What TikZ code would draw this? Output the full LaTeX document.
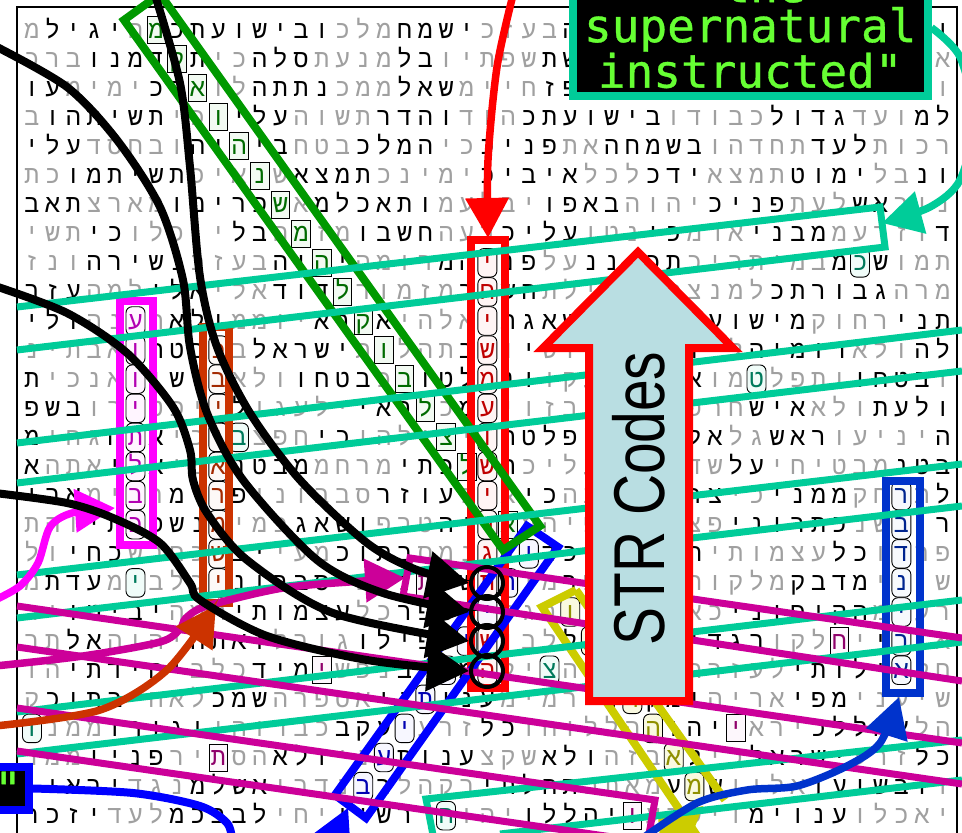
\documentclass[tikz,border=0pt]{standalone}
\usepackage{fontspec}
\usepackage{graphicx}
\usetikzlibrary{arrows.meta}
\newfontfamily\hebf[Script=Hebrew]{Liberation Mono}
\newfontfamily\monof[FakeBold=0.7]{DejaVu Sans Mono}
\newfontfamily\arialf{Liberation Sans}
\definecolor{cteal}{HTML}{00CC99}
\definecolor{cpurp}{HTML}{CC0099}
\definecolor{cpink}{HTML}{FF00FF}
\definecolor{corng}{HTML}{CC3300}
\definecolor{cgreen}{HTML}{009900}
\definecolor{cyell}{HTML}{CCCC00}
\definecolor{cblueA}{HTML}{0000FF}
\definecolor{cblueB}{HTML}{0033CC}
\definecolor{cred}{HTML}{FF0000}
\definecolor{cpale}{HTML}{B9DEE2}
\definecolor{clime}{HTML}{66FF33}
\definecolor{cgray}{HTML}{A0A0A0}
\newcount\hrow \newcount\hcol
\def\blkn{blk}\def\gryn{gry}
\let\lcur\blkn
\def\tog{\ifx\lcur\blkn\let\lcur\gryn\else\let\lcur\blkn\fi}
\def\reghl#1#2#3{\expandafter\gdef\csname hl-#1-#2\endcsname{#3}}
\def\plc#1{%
  \ifnum\hrow<28
    \ifcsname hl-\the\hrow-\the\hcol\endcsname
      \edef\stl{\csname hl-\the\hrow-\the\hcol\endcsname}%
    \else\edef\stl{\lcur}\fi
    \node[\stl] (L\the\hrow-\the\hcol) at (\the\dimexpr32pt+20.7pt*\hcol\relax,\the\dimexpr-30pt-29.1pt*\hrow\relax) {#1};
  \fi
  \advance\hcol-1
  \ifnum\hcol<0 \hcol=44 \advance\hrow1 \fi}
\def\hp#1{\ifx#1\relax\let\nxt\relax\else\ifx#1|\tog\let\nxt\hp\else\plc{#1}\let\nxt\hp\fi\fi\nxt}
\tikzset{
  lt/.style={font=\hebf\fontsize{25}{25}\selectfont,inner sep=0pt,text height=16pt,text depth=0pt,anchor=center},
  blk/.style={lt,text=black},
  gry/.style={lt,text=cgray},
  hlrect/.style={lt,draw=black,line width=.9pt,minimum width=18.5pt,minimum height=27pt},
  hloct/.style={lt,draw=black,line width=.9pt,rounded corners=6pt,minimum width=19pt,minimum height=28.5pt},
  hG/.style={hlrect,text=cgreen!70!black,fill=cgreen!5},
  hM/.style={hloct,text=cpink!70!black,fill=cpink!4},
  hO/.style={hloct,text=corng!80!black,fill=corng!3},
  hR/.style={hloct,text=cred!75!black,fill=cred!4},
  hB/.style={hloct,text=cblueA!70!black,fill=cblueA!3},
  hC/.style={hloct,text=cblueB!70!black,fill=cblueB!3},
  hY/.style={hloct,text=cyell!70!black,fill=cyell!12},
  hT/.style={hloct,text=cteal!60!black,fill=cteal!6},
  hP/.style={hlrect,text=cpurp!70!black,fill=cpurp!3},
  fr/.style={line width=8pt,line join=miter},
  tl/.style={draw=cteal,line width=7pt,line join=miter},
  pl/.style={draw=cpurp,line width=7pt,line join=miter},
  bigtip/.style={-{Triangle[length=40pt,width=42pt]}},
  curve/.style={line width=7.5pt,bigtip},
  kcurve/.style={line width=8pt,-{Triangle[length=42pt,width=46pt]}}
}
\foreach \r [evaluate=\r as \c using int(\r+6)] in {0,...,17}{\xdef\tmpa{\noexpand\reghl{\r}{\c}{hG}}\tmpa}
\foreach \r in {10,...,17}{\xdef\tmpa{\noexpand\reghl{\r}{5}{hM}}\tmpa}
\foreach \r in {11,...,19}{\xdef\tmpa{\noexpand\reghl{\r}{9}{hO}}\tmpa}
\foreach \r in {8,...,22}{\xdef\tmpa{\noexpand\reghl{\r}{22}{hR}}\tmpa}
\foreach \r [evaluate=\r as \c using int(42-\r)] in {18,...,26}{\xdef\tmpa{\noexpand\reghl{\r}{\c}{hB}}\tmpa}
\foreach \r in {16,...,22}{\xdef\tmpa{\noexpand\reghl{\r}{42}{hC}}\tmpa}
\foreach \r [evaluate=\r as \c using int(\r+6)] in {20,...,26}{\xdef\tmpa{\noexpand\reghl{\r}{\c}{hY}}\tmpa}
\reghl{8}{40}{hT}\reghl{14}{10}{hT}\reghl{12}{35}{hT}\reghl{19}{5}{hT}\reghl{22}{25}{hT}\reghl{24}{0}{hT}\reghl{27}{20}{hT}
\reghl{25}{9}{hP}\reghl{22}{14}{hP}\reghl{19}{19}{hP}\reghl{21}{39}{hP}\reghl{24}{34}{hP}\reghl{27}{29}{hP}
\begin{document}
\begin{tikzpicture}[x=1pt,y=-1pt]
\useasboundingbox (0,0) rectangle (962,833);
\clip (0,0) rectangle (962,833);
\fill[white] (0,0) rectangle (962,833);
\draw[line width=1.2pt] (17,7) rectangle (957,845);
\hrow=0 \hcol=44
\hp ו|למנצח|מזמור|לדוד|יהוה|בעזכ|ישמח|מלכ|ובישועתכ|מה|יגיל|מאד|תאות|לבו|נתתה|לו|וארשת|שפתיו|בל|מנעת|סלה|כי|תקדמנו|ברכות|טוב|תשית|לראשו|עטרת|פז|חיימ|שאל|ממכ|נתתה|לו|ארכ|ימימ|עולמ|ועד|גדול|כבודו|בישועתכ|הוד|והדר|תשוה|עליו|כי|תשיתהו|ברכות|לעד|תחדהו|בשמחה|את|פניכ|כי|המלכ|בטח|ביהוה|ובחסד|עליונ|בל|ימוט|תמצא|ידכ|לכל|איביכ|ימינכ|תמצא|שנאיכ|תשיתמו|כתנור|אש|לעת|פניכ|יהוה|באפו|יבלעמ|ותאכלמ|אש|פרימו|מארצ|תאבד|וזרעמ|מבני|אדמ|כי|נטו|עליכ|רעה|חשבו|מזמה|בל|יוכלו|כי|תשיתמו|שכמ|במיתריכ|תכוננ|על|פניהמ|רומה|יהוה|בעזכ|נשירה|ונזמרה|גבורתכ|למנצח|על|אילת|השחר|מזמור|לדוד|אלי|אלי|למה|עזבתני|רחוק|מישועתי|דברי|שאגתי|אלהי|אקרא|יוממ|ולא|תענה|ולילה|ולא|דומיה|לי|ואתה|קדוש|יושב|תהלות|ישראל|בכ|בטחו|אבתינו|בטחו|ותפלטמו|אליכ|זעקו|ונמלטו|בכ|בטחו|ולא|בושו|ואנכי|תולעת|ולא|איש|חרפת|אדמ|ובזוי|עמ|כל|ראי|ילעגו|לי|יפטירו|בשפה|יניעו|ראש|גל|אל|יהוה|יפלטהו|יצילהו|כי|חפצ|בו|כי|אתה|גחי|מבטנ|מבטיחי|על|שדי|אמי|עליכ|השלכתי|מרחמ|מבטנ|אמי|אלי|אתה|אל|תרחק|ממני|כי|צרה|קרובה|כי|אינ|עוזר|סבבוני|פרימ|רבימ|אבירי|בשנ|כתרוני|פצו|עלי|פיהמ|אריה|טרפ|ושאג|כמימ|נשפכתי|והתפרדו|כל|עצמותי|היה|לבי|כדונג|נמס|בתוכ|מעי|יבש|כחרש|כחי|ולשוני|מדבק|מלקוחי|ולעפר|מות|תשפתני|כי|סבבוני|כלבימ|עדת|מרעימ|הקיפוני|כארי|ידי|ורגלי|אספר|כל|עצמותי|המה|יביטו|יראו|בי|יחלקו|בגדי|להמ|ועל|לבושי|יפילו|גורל|ואתה|יהוה|אל|תרחק|אילותי|לעזרתה|חושה|הצילה|מחרב|נפשי|מיד|כלב|יחידתי|הושיעני|מפי|אריה|ומקרני|רמימ|עניתני|אספרה|שמכ|לאחי|בתוכ|קהל|אהללכ|יראי|יהוה|הללוהו|כל|זרע|יעקב|כבדוהו|וגורו|ממנו|כל|זרע|ישראל|כי|לא|בזה|ולא|שקצ|ענות|עני|ולא|הסתיר|פניו|ממנו|ובשועו|אליו|שמע|מאתכ|תהלתי|בקהל|רב|נדרי|אשלמ|נגד|יראיו|יאכלו|ענוימ|וישבעו|יהללו|יהוה|דרשיו|יחי|לבבכמ|לעד|יזכרו\relax
% frames
\draw[cred,fr] (471,240) rectangle (505,688);
\draw[cyell,fr] (576,590) -- (542,607) -- (700,840) (576,590) -- (725,800);
\fill[cyell] (658,816) -- (703,806) -- (690,840) -- (660,840) -- cycle;
\draw[cpink,fr] (120,301) rectangle (153,545);
\draw[corng,fr] (203,327) rectangle (229,603);
\draw[cblueB,fr] (886,481) rectangle (920,693);
\draw[cblueA,fr] (527,526) -- (558,547) -- (366,818) -- (335,795) -- cycle;
\draw[cgreen,fr] (124,20) -- (160,-6) -- (540,526) -- (503,550) -- cycle;
% teal
\draw[tl] (17,307) -- (880,207) -- (885,247) -- (17,350);
\draw[tl] (962,330) -- (17,443);
\draw[tl] (962,371) -- (17,483);
\draw[tl] (962,464) -- (17,575);
\draw[tl] (962,506) -- (17,618);
\draw[tl] (962,600) -- (17,712);
\draw[tl] (962,642) -- (17,754);
\draw[tl] (962,740) -- (426,799) -- (434,840);
\draw[tl] (962,780) -- (500,834);
% purple
\draw[pl] (17,606) -- (962,743);
\draw[pl] (17,647) -- (962,784);
\draw[pl] (17,708) -- (655,800) -- (648,840);
\draw[pl] (17,751) -- (640,841);
\draw[pl] (403,596) -- (410,558) -- (962,638);
\draw[pl] (403,596) -- (962,681);
% top-right label
\node[draw=cteal,fill=black,line width=8pt,minimum width=354.5pt,minimum height=136.5pt,inner sep=0pt,
  text=clime,align=center,font=\monof\fontsize{46}{43.5}\selectfont] (tb) at (750.25,27.75) {\raisebox{-3.5pt}{"the}\\supernatural\\instructed"};
% bottom-left label
\node[draw=cblueA,fill=black,line width=8pt,minimum width=42pt,minimum height=43pt,inner sep=0pt,
  text=clime,font=\monof\fontsize{46}{43.5}\selectfont] (lb) at (8,788.5) {"};
% STR arrow
\coordinate (sT) at (638,252);
\draw[cred,fill=cpale,line width=8pt,line join=miter] (sT) -- (733,348) -- (689,348) -- (689,701) -- (589,701) -- (589,348) -- (543,348) -- cycle;
\node[rotate=90,inner sep=0pt,font=\arialf\fontsize{72}{72}\selectfont] (st) at (639,498.5) {\scalebox{0.79}[1]{STR Codes}};
% coloured arrows
\coordinate (rE) at (488,238);
\coordinate (tE) at (882,223);
\coordinate (pE) at (115,508);
\coordinate (oE) at (216,605);
\coordinate (mE) at (405,578);
\coordinate (bE) at (899,697);
\draw[cred,curve] plot[smooth] coordinates {(513,-5) (497,67) (488,160) (rE)};
\draw[cteal,curve] plot[smooth] coordinates {(tb.east) (960,57) (974,120) (960,180) (930,207) (tE)};
\draw[cpink,curve] plot[smooth] coordinates {(-5,600) (20,586) (38,563) (50,527) (72,513) (pE)};
\draw[cpurp,curve] plot[smooth] coordinates {(-5,666) (83,656) (160,642) (180,629) (186,618) (207,606) (283,588) (363,581) (mE)};
\draw[corng,curve] plot[smooth] coordinates {(-5,726) (100,710) (167,670) (oE)};
\draw[cblueB,curve] plot[smooth] coordinates {(640,840) (697,803) (747,790) (797,786) (847,766) (880,743) (bE)};
\draw[cblueA,line width=8pt] plot[smooth] coordinates {(lb.east) (133,793) (200,806) (227,823) (232,840)};
\fill[cblueA] (348,808) -- (305,840) -- (350,840) -- cycle;
% circles
\node[circle,draw=black,line width=4pt,minimum size=32pt,inner sep=0pt] (c1) at (487,583) {};
\node[circle,draw=black,line width=4pt,minimum size=32pt,inner sep=0pt] (c2) at (487,612) {};
\node[circle,draw=black,line width=4pt,minimum size=32pt,inner sep=0pt] (c3) at (487,641) {};
\node[circle,draw=black,line width=4pt,minimum size=32pt,inner sep=0pt] (c4) at (487,671) {};
% black curves
\draw[black,kcurve] plot[smooth] coordinates {(155,-5) (180,83) (190,167) (200,277) (217,347) (250,413) (300,480) (367,543) (417,570) (c1.west)};
\draw[black,kcurve] plot[smooth] coordinates {(-5,46) (67,87) (117,140) (160,207) (183,280) (190,347) (207,413) (243,480) (317,560) (383,593) (c2.west)};
\draw[black,kcurve] plot[smooth] coordinates {(-5,286) (67,313) (127,353) (173,407) (190,450) (193,480) (207,513) (247,560) (333,613) (c3.west)};
\draw[black,kcurve] plot[smooth] coordinates {(-5,493) (67,503) (113,518) (160,543) (190,583) (200,600) (267,636) (367,660) (c4.west)};
\end{tikzpicture}
\end{document}
